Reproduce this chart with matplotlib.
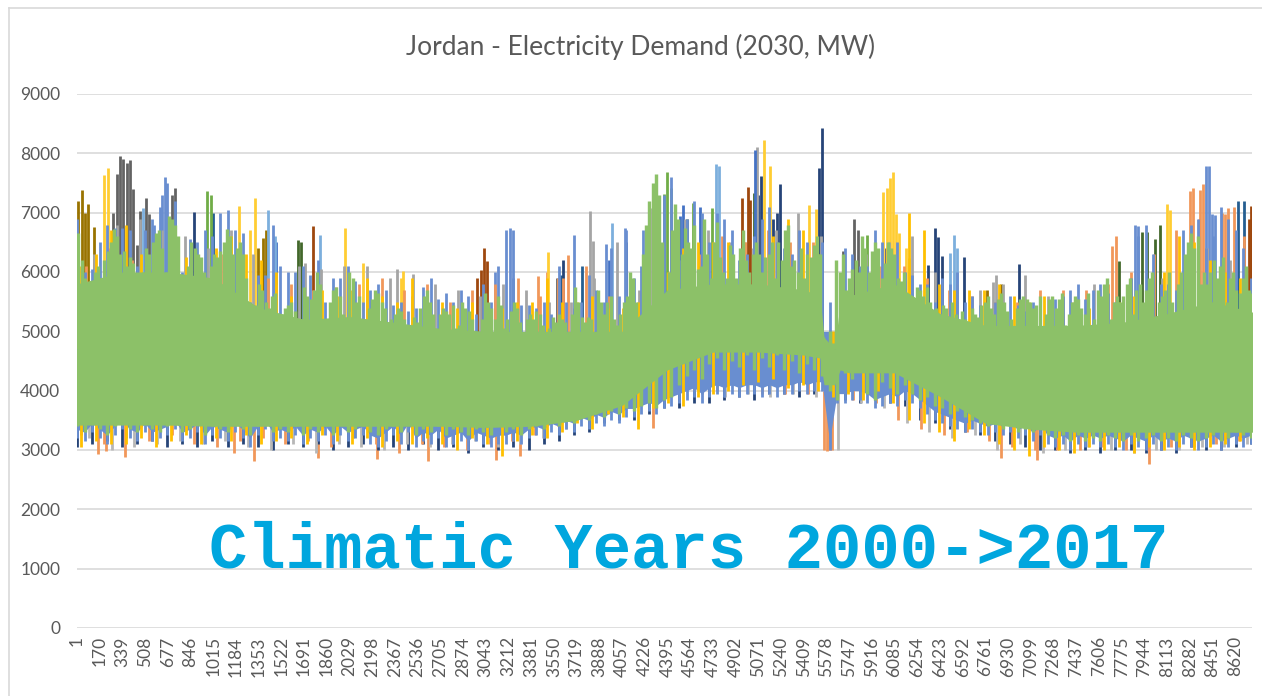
import matplotlib
matplotlib.use("Agg")
import matplotlib.pyplot as plt
from matplotlib.lines import Line2D

# ---------- data ----------
DAILY_HOURS = list(range(12, 8761, 24))
green_daily_high = [
 6650,6200,5900,5600,5800,6000,6100, 5900,6200,6350,6500,6720,6600,6300,
 6350,6100,6250,6150,5700,5500,6000, 6400,6300,6500,6650,6700,6400,6000,
 6950,6900,6800,6600,5900,5400,6100, 6500,6400,6300,6250,6000,5700,6100,
 6300,6250,6350,6500,6720,6600,6300, 6400,6500,6300,5900,5350,5100,5450,
 5800,5700,5500,5400,5600,5650,5100, 5300,5400,5450,5500,5350,5000,5200,
 5750,5600,5550,5700,6000,5800,5200, 5200,5500,5700,5750,5600,5300,5000,
 6000,5900,5500,5600,5200,5000,5400, 5550,5700,5650,5500,5400,5100,5200,
 5300,5400,5350,5200,5100,4950,5250, 5150,5400,5600,5700,5500,5300,5000,
 5300,5400,5350,5300,5450,5050,5100, 5500,5400,5350,5200,5000,4850,5200,
 5650,5500,5400,5200,5600,5450,5050, 5200,5350,5500,5400,5150,4950,5200,
 5300,5200,5350,5300,5100,4900,5050, 5250,5150,5300,5200,5150,4950,5300,
 5750,5500,5250,5150,5250,5200,4950, 5700,5500,5300,5500,5600,5200,5100,
 5300,5500,5600,6000,5900,5500,5250, 6300,6800,7200,7500,7650,7300,6500,
 5600,6000,6700,7150,6900,6300,6750, 6500,6400,6800,6050,6100,6900,6300,
 5900,6500,6850,6250,6000,5900,6450, 6300,5900,6400,6700,6200,6000,6300,
 6500,6300,6000,6250,6300,6500,5900, 6500,6200,6700,6800,6100,6200,6000,
 6400,5900,6300,6250,6450,6600,6300, 4900,4700,5000,4800,6200,6000,6300,
 5700,5900,6050,6200,6000,6600,6400, 6000,6350,6500,6400,5900,6150,6500,
 6400,6300,5900,5850,6000,5500,5600, 5300,5750,5700,5600,5750,5500,5250,
 5400,5300,5450,5400,5200,5500,5300, 5150,5350,5200,5000,5400,5300,5250,
 5450,5500,5600,5400,5300,5550,5650, 5500,5350,5200,4900,5400,5550,5600,
 5550,5500,5400,5450,5600,5000,5300, 5550,5600,5400,5550,5650,5100,5300,
 5500,5600,5550,5400,5300,5650,5000, 5200,5700,5600,5800,5900,5200,5500,
 5600,5500,5600,5800,5900,5300,5700, 5800,5500,5700,5900,6000,5200,5500,
 5600,5700,6000,5500,5300,5800,6000, 6300,6500,6650,6400,6600,5800,6000,
 5800,6000,6200,5900,6100,6250,5500, 5900,6000,5700,5650,5900,6100,5700,
 5650]

BODY_HOURS = [1,339,677,1015,1353,1691,2029,2367,2705,3043,3381,3719,4057,4395,4733,
              5071,5409,5530,5560,5640,5680,5747,6085,6423,6761,7099,7437,7775,8113,8451,8789]
body_top = [5800,6000,6000,5900,5400,5200,5250,5150,5050,5000,5000,5000,5000,5700,5800,
            5800,5700,5600,4900,4700,5500,5600,5800,5300,5100,5100,5100,5150,5300,5500,5300]
body_bottom = [3420,3420,3420,3400,3400,3400,3400,3400,3400,3380,3400,3500,3750,
               4350,4650,4650,4600,4550,4100,4100,4350,4300,4300,3900,3450,3350,3300,3300,3300,3300,3300]

HOURS = list(range(1, 8761, 56))
green_low = [
 3400,3300,3450,3350,3250,3400,3500,3350,3300,3450,
 3350,3300,3400,3500,3300,3350,3450,3250,3400,3350,
 3300,3450,3350,3250,3400,3500,3300,3350,3300,3400,
 3250,3350,3300,3400,3250,3450,3300,3350,3400,3300,
 3250,3350,3400,3300,3450,3250,3350,3300,3400,3250,
 3350,3300,3250,3350,3300,3250,3400,3300,3350,3250,
 3350,3400,3350,3450,3400,3500,3450,3550,3500,3600,
 3550,3650,3600,3700,3650,3750,3800,3700,3850,3900,
 4100,4250,4350,4200,4450,4550,4350,4500,4400,4600,
 4350,4550,4400,4600,4350,4500,4300,4450,4350,4250,
 4000,3850,4300,4200,4350,3950,3850,4150,4050,3950,
 4100,3950,3850,3900,3750,3700,3600,3650,3550,3500,
 3450,3400,3450,3350,3400,3300,3350,3300,3350,3250,
 3200,3250,3150,3250,3150,3200,3150,3250,3200,3150,
 3250,3150,3200,3250,3150,3200,3150,3250,3200,3150,
 3200,3250,3150,3200,3300,3250,3200]
blue_high = [
 6900,6000,6050,6500,6800,6750,6750,6700,6100,6700,
 6900,7100,7500,7200,6000,6550,6500,6700,6600,7000,
 7050,6700,6650,5500,5950,5950,6800,6100,6000,6000,
 6100,5950,6200,5500,5900,5900,6100,5850,5500,5700,
 5800,5700,5450,5500,5350,5400,5750,5900,5550,5650,
 5500,5700,5600,5300,5800,5500,6100,6700,5900,5450,
 5450,5400,5500,5300,5300,5500,5400,5500,5950,5700,
 5500,6400,5600,6700,5900,6100,6700,6500,7300,7600,
 6200,6900,7200,7000,6500,7000,6900,6700,6200,6300,
 6600,6900,7100,6500,6400,6300,6700,6500,6300,6500,
 5500,5100,6400,6300,6100,6100,6700,6500,6100,6500,
 6000,5950,5800,5800,5500,5900,5800,6000,5500,5600,
 5450,5550,5500,5400,5600,5450,5350,5500,5400,5200,
 5550,5600,5700,5800,5550,5700,5800,5650,5500,5400,
 5900,6600,6800,6300,5800,5800,5700,6700,6800,6900,
 6400,6600,7100,6900,6700,6400,5900]
blue_low = [
 3200,3150,3300,3200,3100,3250,3350,3200,3150,3300,
 3150,3200,3250,3350,3150,3200,3300,3100,3250,3200,
 3150,3300,3200,3050,3250,3350,3150,3200,3150,3250,
 3100,3200,3150,3250,3100,3250,3150,3200,3250,3100,
 3050,3150,3250,3100,3300,3050,3150,3100,3200,3050,
 3100,3150,3000,3150,3100,3050,3100,3100,3150,3100,
 3200,3250,3200,3300,3250,3350,3300,3400,3350,3450,
 3400,3500,3450,3550,3550,3600,3650,3600,3700,3750,
 3800,3850,3900,3800,3900,3950,3900,3950,3900,3950,
 3950,3900,3950,3900,3950,3950,4000,3950,4000,4000,
 3000,3800,3800,3850,3850,3800,3700,3750,3800,3750,
 3850,3800,3700,3600,3500,3450,3400,3350,3300,3350,
 3300,3250,3300,3250,3300,3200,3250,3150,3250,3100,
 3050,3100,3000,3100,3050,3100,3050,3100,3050,3000,
 3100,3050,3000,3100,3000,3050,3000,3100,3050,3000,
 3050,3100,3000,3050,3100,3050,3100]

SPARSE_HOURS = list(range(1, 8761, 112))
navy_low = [
 3050,3100,3150,3050,3100,3150,3050,3100,3050,3150,
 3050,3100,3050,3000,3100,3050,3100,3000,3050,3100,
 3000,3050,3000,3100,3000,3050,2950,3050,3000,3050,
 3000,3100,3150,3250,3300,3450,3500,3500,3600,3700,
 3700,3800,3800,3850,3900,3850,3950,3950,3900,3950,
 3050,3850,3800,3850,3800,3750,3500,3450,3350,3300,
 3250,3150,3100,3050,3000,3000,2950,3000,2950,3000,
 3000,2950,3000,2950,3050,3000,3000,3050,3100]
YELLOW_HOURS = list(range(29, 8761, 112))
yellow_low = [
 3050,3150,3100,3100,3200,3050,3150,3250,3100,3200,
 3150,3250,3100,3150,3200,3100,3250,3150,3100,3200,
 3050,3150,3100,3200,3100,3000,3200,3100,2900,3150,
 3250,3200,3300,3450,3350,3600,3550,3350,3700,3800,
 3750,3900,3950,4000,4100,4150,4200,4050,4100,4000,
 3900,3950,3850,4000,3800,3500,3450,3300,3150,3350,
 3250,3100,3000,2900,3050,3000,2950,3050,3000,3050,
 2950,3050,3000,3050,3000,3050,3100,3150]
yellow_top = [
 6100,6300,6700,6800,6300,6100,6000,6250,6200,6400,
 6600,6300,6200,6000,5600,5500,5700,5600,5700,5900,
 5600,5500,5900,5500,5500,5400,5500,5300,5400,5500,
 5500,5900,5500,5500,5600,5400,5400,5500,5800,6000,
 6400,6500,6500,6500,6400,6200,6600,6900,6700,6300,
 5000,5300,5900,6100,6100,7000,6700,5800,5700,5700,
 5700,5800,5600,5500,5600,5500,5500,5400,5500,5500,
 5600,5700,6000,6600,6500,6200,6000,5900]

FRINGE_HOURS = list(range(30, 8761, 169))
orange_low = [
 3250,3100,3200,3150,3250,3100,3050,3150,3200,3100,
 3150,3050,3200,3100,2950,3100,3050,3000,3100,3150,
 3250,3400,3600,3750,3900,3950,3950,4000,4000,4050,
 3950,3950,3950,3000,3850,3800,3500,3350,3250,3300,
 3150,3050,3000,3000,3000,3050,3000,3000,3050,3050,
 3100,3150]
gray_low = [
 3200,3000,3050,3100,3150,3100,3150,3050,3000,3100,
 2950,3100,3050,3000,3100,3050,3100,3150,3050,3100,
 3200,3350,3500,3650,3800,3850,3950,3950,3900,3950,
 3900,3950,3900,3000,3800,3700,3450,3300,3200,3250,
 3000,3100,2950,3000,3050,3000,2950,3000,3000,3050,
 3050,3100]
gray_top = [
 6300,6800,6900,6700,6600,6400,6700,6300,5800,6100,
 6050,6100,6100,5900,5600,5800,5700,5600,5800,5700,
 5500,5500,5900,6500,5700,6300,6900,6700,6500,6400,
 6700,7000,6600,5200,6300,6500,6600,6000,5800,5700,
 5800,5950,5600,5500,5800,5500,5700,5900,6200,6400,
 6200,6000]
orange_top = [
 6100,6400,6200,6300,6300,6200,6300,5700,5900,5800,
 5700,5750,5800,5900,5700,5800,5500,5700,5800,5900,
 5600,5900,6100,5600,5800,6000,6500,6300,6600,6500,
 6700,6500,6500,5200,5900,6100,6100,5900,5700,5600,
 5500,5500,5700,5700,5700,5800,6000,6300,6700,6900,
 7000,6600]

dark_gray_hours = [269,299,321,343,373,395,418,447,470,514,537,708,730,3570,5700,5780,5815,5855,6020]
dark_gray_peaks = [7000,7650,7960,7900,7830,7880,7400,6450,7030,7250,6980,7300,7410,5900,6350,6900,6700,6200,6400]
yellow_hours = [202,232,1206,1325,1995,2427,3505,5112,5157,5447,5499,6000,6028,6050,6072,6094,6117,6169,6191,8110,8133,1290,2130,2410]
yellow_peaks = [7640,7760,7120,7240,6750,6020,6340,8220,7780,7130,7070,7340,7420,7590,7680,6980,6650,6400,6230,7150,7040,6700,6150,5900]
gold_hours = [8,38,61,83,127,1385,1407,1350,6770,6880]
gold_peaks = [7200,7390,6990,7150,6760,6580,6700,6400,5700,5800]
blue_hours = [574,633,655,3111,3223,3245,3699,3937,4078,7873,7895,8401,8424,8446,8468,3590,4210]
blue_peaks = [6800,7300,7600,6000,6750,6710,6620,6470,6750,6800,6770,7780,7780,6970,6960,6100,6700]
mid_blue_hours = [4487,4510,5046,3960,4640,1480]
mid_blue_peaks = [6950,7130,8060,6200,7100,6500]
light_blue_hours = [492,1422,1474,1809,3980,4755,4777,6496,6526,6548]
light_blue_peaks = [7080,7050,6600,6620,6820,7820,7790,6320,6630,6410]
navy_hours = [871,3620,4090,5090,5209,5231,5521,5544,6333,6385,6407,6437,6600,7010,5070,5180]
navy_peaks = [7010,6200,6500,7620,7000,7480,7760,8420,6120,6740,6590,6270,6250,6140,7300,6900]
brown_hours = [1757,2975,3007,3029,3052,4949,4994,5009,8735,8720]
brown_peaks = [6775,5900,6040,6400,6180,7240,7440,7210,7120,6900]
mid_green_hours = [968,998,4370,4391,4420,4584,4725,5879,700]
mid_green_peaks = [7370,7290,7310,7680,7420,7160,7080,6620,6800]
dark_green_hours = [1645,1668,4539,5038,7754,7924,7961,8022,8058]
dark_green_peaks = [6540,6510,6900,7330,6180,6680,6670,6560,6790]
gray_hours = [2500,3818,3840,4279,5060,6816,6838,1700,2380]
gray_peaks = [5970,7030,6530,7080,8110,5830,5950,6150,6050]
orange_hours = [3431,3654,7705,7731,8281,8304,8356,8378,8542,8564,8609,3500,3580,4975]
orange_peaks = [5930,6290,6430,6607,7360,7420,7390,7480,6970,7080,7100,6000,5900,6500]
teal_hours = [8638,8683,3760,3600,1010]
teal_peaks = [7200,7190,6100,5950,7000]

drop_hours = [358,1318,157,218,1794,2612,3118,4286,7143,7977,1170,2230,3300,6880,5560,5580,5600,5620]
drop_values = [2890,2810,2940,2980,2860,2810,2830,3370,2830,2760,2950,2850,2900,2870,3000,2980,3000,3000]

tick_labels = ["1","170","339","508","677","846","1015","1184","1353","1522","1691","1860",
 "2029","2198","2367","2536","2705","2874","3043","3212","3381","3550","3719","3888",
 "4057","4226","4395","4564","4733","4902","5071","5240","5409","5578","5747","5916",
 "6085","6254","6423","6592","6761","6930","7099","7268","7437","7606","7775","7944",
 "8113","8282","8451","8620"]
y_ticks = [0,1000,2000,3000,4000,5000,6000,7000,8000,9000]

# ---------- styling ----------
C_GREEN, C_BLUE = "#8CC168", "#698ED0"
LW = 2.0
LW_GREEN = 2.45
W, H = 1262, 696
fig = plt.figure(figsize=(W/100, H/100), dpi=100, facecolor="white")
ax = fig.add_axes([77/W, (H-628)/H, (1252-77)/W, (628-94)/H])
ax.set_xlim(1, 8745)
ax.set_ylim(0, 9000)
for s in ax.spines.values():
    s.set_visible(False)
ax.set_axisbelow(True)
ax.yaxis.grid(True, color="#D9D9D9", lw=1.2)
ax.tick_params(length=0)
ax.set_yticks(y_ticks)
ax.set_yticklabels([str(v) for v in y_ticks], fontsize=12.5, color="#595959", family="Lato")
ax.tick_params(axis="y", pad=12)
ax.set_xticks([int(t) for t in tick_labels])
ax.set_xticklabels(tick_labels, rotation=90, fontsize=12.5, color="#595959", family="Lato")
ax.tick_params(axis="x", pad=6)

def spikes(h, v, c, base=4900, z=3):
    ax.vlines(h, base, v, color=c, lw=LW, zorder=z)

spike_sets = [
    (dark_gray_hours, dark_gray_peaks, "#636363"),
    (gold_hours, gold_peaks, "#997300"),
    (brown_hours, brown_peaks, "#9E480E"),
    (teal_hours, teal_peaks, "#255E91"),
    (dark_green_hours, dark_green_peaks, "#43682B"),
    (navy_hours, navy_peaks, "#264478"),
    (gray_hours, gray_peaks, "#A5A5A5"),
    (orange_hours, orange_peaks, "#F1975A"),
    (mid_blue_hours, mid_blue_peaks, "#4472C4"),
    (light_blue_hours, light_blue_peaks, "#7CAFDD"),
    (blue_hours, blue_peaks, C_BLUE),
    (yellow_hours, yellow_peaks, "#FFCD33"),
    (mid_green_hours, mid_green_peaks, "#70AD47"),
]

# lower fringe, then upper fringe, then the main series on top
ax.vlines(drop_hours, drop_values, 4000, color="#F1975A", lw=LW, zorder=2.6)
ax.vlines(SPARSE_HOURS, navy_low, 4300, color="#264478", lw=LW, zorder=2.7)
ax.vlines(FRINGE_HOURS, orange_low, 4300, color="#F1975A", lw=LW, zorder=2.8)
ax.vlines([h + 60 for h in FRINGE_HOURS], gray_low, 4300, color="#B7B7B7", lw=LW, zorder=2.9)
for h, v, c in spike_sets:
    spikes(h, v, c)
ax.vlines([h + 100 for h in FRINGE_HOURS], 4900, gray_top, color="#A5A5A5", lw=LW, zorder=3.1)
ax.vlines([h + 40 for h in FRINGE_HOURS], 4900, orange_top, color="#F1975A", lw=LW, zorder=3.2)
ax.fill_between(HOURS, [l + 150 for l in blue_low], 5000, color=C_BLUE, lw=0, zorder=3.3)
ax.vlines(HOURS, blue_low, blue_high, color=C_BLUE, lw=LW, zorder=3.4)
ax.vlines(YELLOW_HOURS, yellow_low, yellow_top, color="#FFC000", lw=LW, zorder=3.6)

ax.fill_between(BODY_HOURS, body_bottom, body_top, color=C_GREEN, lw=0, zorder=4)
ax.vlines(DAILY_HOURS, 4700, green_daily_high, color=C_GREEN, lw=LW_GREEN, zorder=4.1)
ax.vlines(HOURS, green_low, 4700, color=C_GREEN, lw=LW_GREEN, zorder=4.1)

fig.text(641/W, 1-47/H, "Jordan - Electricity Demand (2030, MW)", ha="center", va="center",
         fontsize=19, color="#595959", family="Lato")
fig.text(689/W, 1-568/H, "Climatic Years 2000->2017", ha="center", va="baseline",
         fontsize=46, color="#00A6DE", family="Liberation Mono", weight="bold")

fig.add_artist(Line2D([9/W, 9/W], [0, 1-8/H], color="#D9D9D9", lw=1.2))
fig.add_artist(Line2D([9/W, 1], [1-8/H, 1-8/H], color="#D9D9D9", lw=1.2))

fig.savefig("out.png", dpi=100)
